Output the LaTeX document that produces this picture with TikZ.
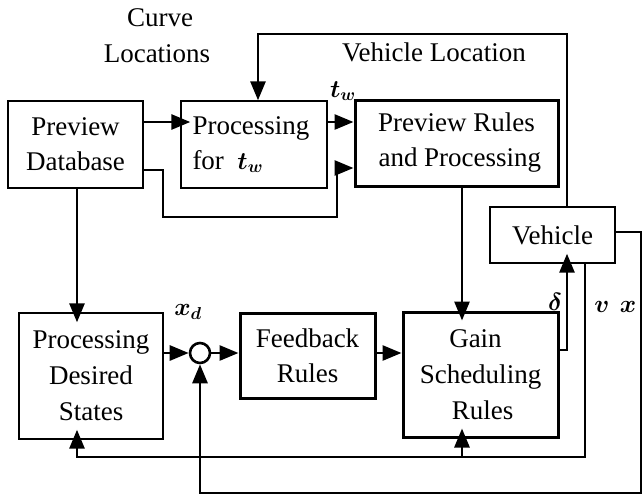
\documentclass[tikz,border=0pt]{standalone}
\usepackage{fontspec}
\setmainfont{Liberation Serif}
\usepackage{amsmath,bm}
\usetikzlibrary{arrows.meta,calc}
\begin{document}
\begin{tikzpicture}[x=1pt,y=-1pt,
  box/.style={draw,line width=1.4pt,inner sep=0pt,align=center,font=\fontsize{27}{35}\selectfont},
  tbox/.style={box,line width=3pt},
  conn/.style={line width=2.8pt,-{Triangle[length=19pt,width=15pt]}},
  pen/.style={shorten >=-10pt},
  lab/.style={inner sep=0pt,font=\fontsize{27}{30}\selectfont},
  mlab/.style={inner sep=0pt,font=\fontsize{23}{26}\selectfont}]
\useasboundingbox (0,0) rectangle (643,499);
% blocks
\node[box,minimum width=135pt,minimum height=87pt] (db) at (75.5,144.5) {Preview\\Database};
\node[box,minimum width=146pt,minimum height=87pt,align=left] (pt) at (254,144.5) {\hspace*{-6pt}Processing\\\hspace*{-6pt}for \ $\bm{t}_{\bm{w}}$};
\node[tbox,minimum width=203pt,minimum height=86pt] (pr) at (456.5,143) {Preview Rules\\\ and Processing};
\node[box,minimum width=125pt,minimum height=56pt] (vh) at (552.5,235) {Vehicle};
\node[box,minimum width=144pt,minimum height=126pt,font=\fontsize{27}{36}\selectfont] (pds) at (91,376) {Processing\\Desired\\States};
\node[circle,draw,line width=2.6pt,minimum size=20pt,inner sep=0pt] (sum) at (200,353) {};
\node[tbox,minimum width=135pt,minimum height=85pt] (fb) at (307.5,355.5) {Feedback\\Rules};
\node[tbox,minimum width=155pt,minimum height=125pt,font=\fontsize{27}{36}\selectfont] (gs) at (480.5,374.5) {Gain\hspace*{10pt}\\Scheduling\\Rules\hspace*{-4pt}};
% labels
\node[lab] (lcurve) at (160,18) {Curve};
\node[lab] (lloc) at (157,54) {Locations};
\node[lab] (lvl) at (434,52) {Vehicle Location};
\node[mlab] (ltw) at (343,91) {$\bm{t}_{\bm{w}}$};
\node[mlab] (lxd) at (188,312) {$\bm{x}_{\bm{d}}$};
\node[mlab] (ldelta) at (555,302) {$\bm{\delta}$};
\node[mlab] (lv) at (602,307) {$\bm{v}$};
\node[mlab] (lx) at (628,307) {$\bm{x}$};
% helper coordinates
\coordinate (ya) at (0,122);
\coordinate (yb) at (0,170);
\coordinate (yc) at (0,168);
\coordinate (c1) at (163,217);
\coordinate (c2) at (337,217);
\coordinate (top1) at (258,34);
\coordinate (top2) at (567,34);
\coordinate (xs) at (462,0);
\coordinate (xd) at (77,0);
\coordinate (yd) at (0,350);
\coordinate (dl) at (567,350);
\coordinate (b1) at (585,457);
\coordinate (b2) at (77,457);
\coordinate (b3) at (462,457);
\coordinate (ye) at (0,232);
\coordinate (r1) at (641,232);
\coordinate (r2) at (641,493);
\coordinate (r3) at (200,493);
% connectors
\draw[conn,pen] (db.east |- ya) -- (pt.west |- ya);
\draw[conn] (pt.east |- ya) -- (pr.west |- ya);
\draw[conn] (db.east |- yb) -| (c1) -- (c2) |- (pr.west |- yc);
\draw[conn] (vh.north -| top2) -- (top2) -- (top1) -- (pt.north -| top1);
\draw[conn,pen] (pr.south -| xs) -- (gs.north -| xs);
\draw[conn,pen] (db.south -| xd) -- (pds.north -| xd);
\draw[conn] (pds.east |- sum) -- (sum.west);
\draw[conn] (sum.east) -- (fb.west |- sum);
\draw[conn] (fb.east |- sum) -- (gs.west |- sum);
\draw[conn,pen] (gs.east |- yd) -- (dl) -- (vh.south -| dl);
\draw[conn,pen] (vh.south -| b1) -- (b1) -- (b2) -- (pds.south -| b2);
\draw[conn,pen] (b3) -- (gs.south -| b3);
\draw[conn] (vh.east |- ye) -- (r1) -- (r2) -- (r3) -- (sum.south);
\end{tikzpicture}
\end{document}
